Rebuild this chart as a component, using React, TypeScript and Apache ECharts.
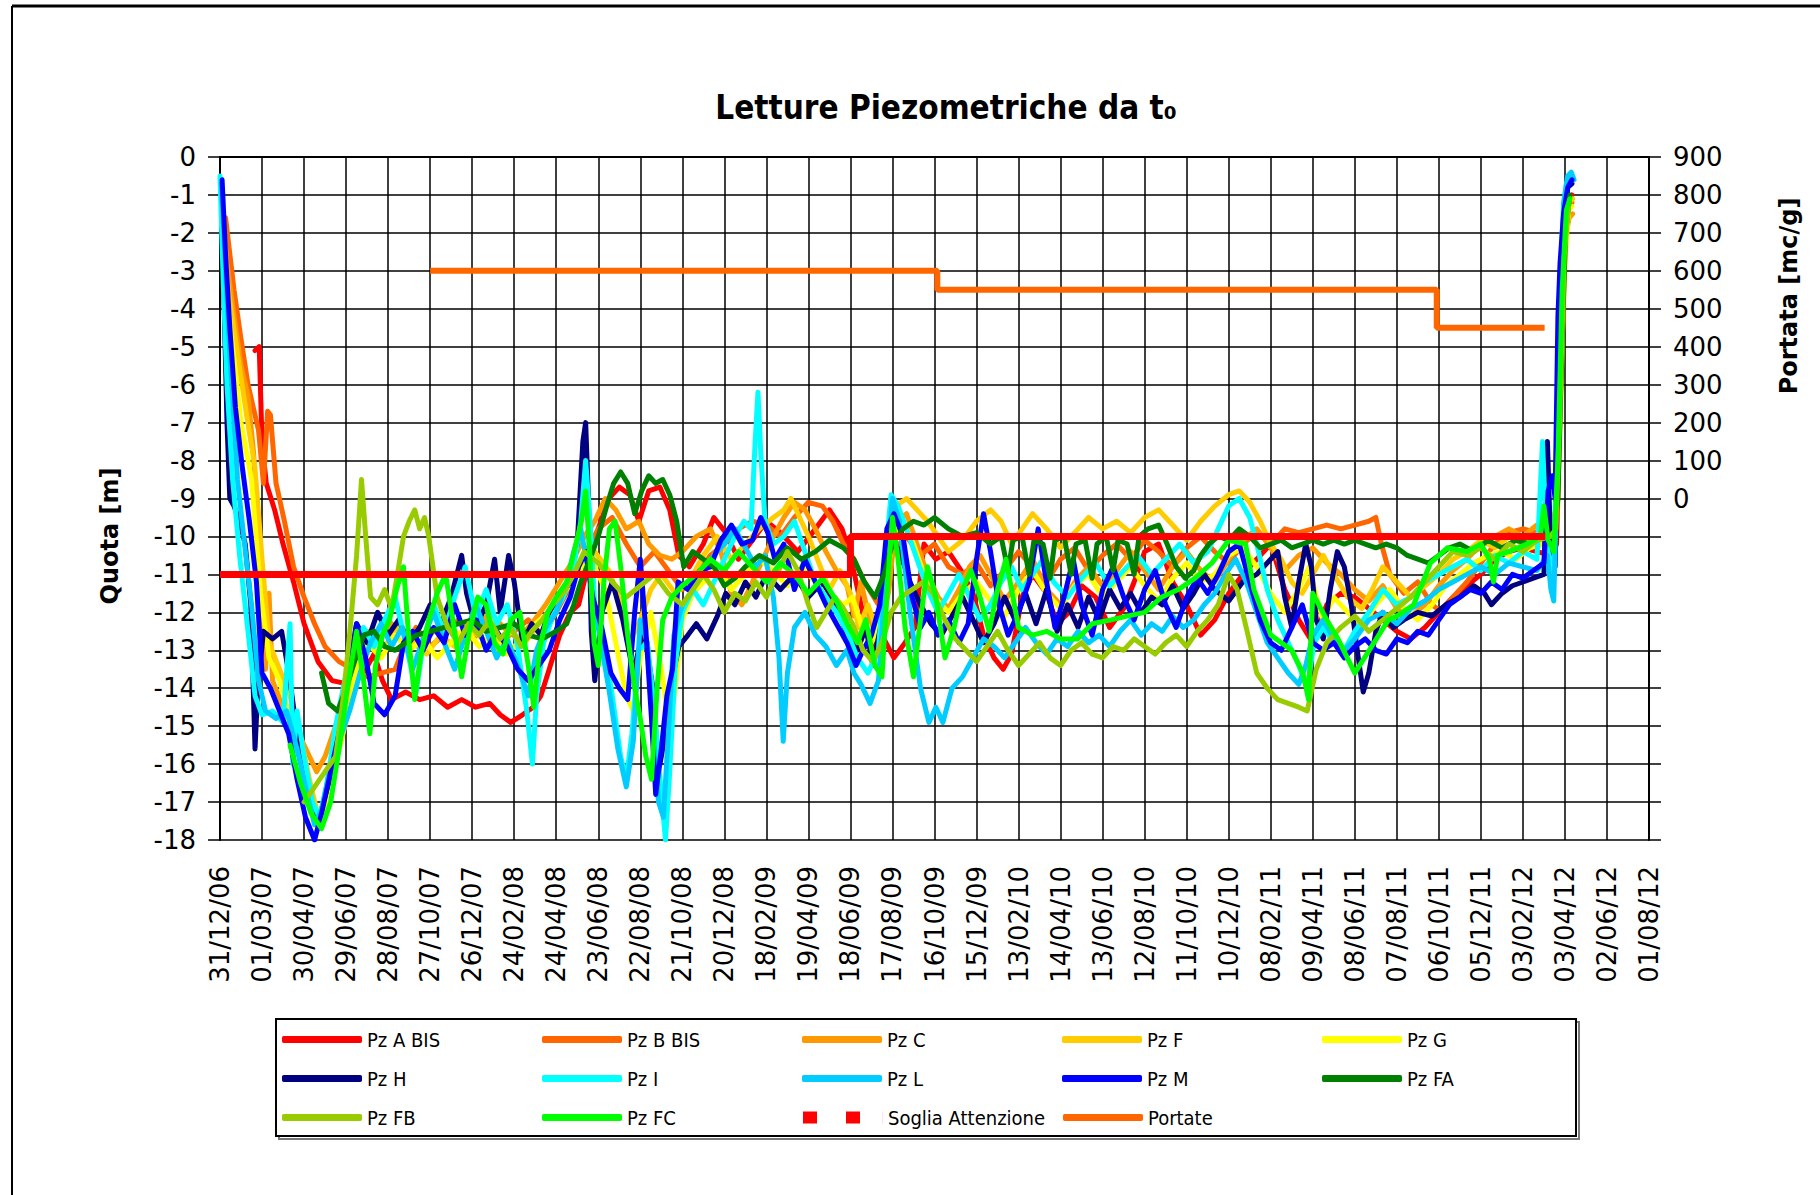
import React, { useEffect, useRef } from 'react';
import * as echarts from 'echarts';

// Tick labels of the date axis (every 60 days from 31/12/06)
const xLabels = ['31/12/06','01/03/07','30/04/07','29/06/07','28/08/07','27/10/07','26/12/07','24/02/08','24/04/08','23/06/08','22/08/08','21/10/08','20/12/08','18/02/09','19/04/09','18/06/09','17/08/09','16/10/09','15/12/09','13/02/10','14/04/10','13/06/10','12/08/10','11/10/10','10/12/10','08/02/11','09/04/11','08/06/11','07/08/11','06/10/11','05/12/11','03/02/12','03/04/12','02/06/12','01/08/12'];

// [days since 31/12/06, quota m]
const pzABis = [[50,-5.1],[56,-5.0],[60,-7.5],[66,-8.6],[78,-9.3],[90,-10.2],[105,-11.2],[120,-12.3],[140,-13.3],[160,-13.8],[185,-13.9],[205,-13.6],[220,-13.1],[232,-13.8],[245,-14.3],[265,-14.1],[285,-14.3],[305,-14.2],[325,-14.5],[345,-14.3],[365,-14.5],[385,-14.4],[400,-14.7],[415,-14.9],[432,-14.7],[447,-14.5],[458,-14.2],[470,-13.5],[485,-12.6],[500,-12.0],[512,-11.8],[525,-10.8],[540,-9.8],[555,-9.0],[570,-8.7],[585,-8.9],[598,-9.6],[612,-8.8],[628,-8.7],[642,-9.3],[655,-10.5],[670,-10.8],[690,-10.2],[705,-9.5],[722,-9.9],[740,-10.6],[760,-10.1],[780,-9.6],[800,-9.9],[825,-10.4],[850,-9.8],[870,-9.3],[888,-9.8],[900,-10.5],[915,-11.8],[930,-13.0],[945,-12.6],[962,-13.2],[978,-12.8],[992,-12.4],[1005,-10.2],[1022,-10.6],[1040,-10.4],[1058,-10.9],[1075,-11.5],[1090,-12.6],[1105,-13.2],[1118,-13.5],[1130,-13.1],[1145,-11.6],[1160,-11.0],[1180,-11.5],[1195,-12.3],[1212,-12.0],[1230,-11.3],[1250,-11.6],[1270,-12.4],[1290,-11.9],[1305,-11.2],[1320,-10.4],[1340,-10.2],[1360,-11.2],[1380,-11.8],[1400,-12.6],[1420,-12.2],[1440,-11.5],[1460,-11.0],[1480,-10.6],[1500,-10.2],[1520,-11.4],[1540,-12.2],[1560,-12.8],[1580,-11.8],[1600,-11.5],[1620,-11.6],[1640,-11.9],[1660,-12.2],[1680,-12.5],[1700,-12.7],[1720,-12.4],[1740,-12.0],[1760,-11.6],[1780,-11.3],[1800,-11.0],[1820,-10.6],[1840,-10.4],[1860,-10.3],[1880,-10.4],[1900,-10.5],[1908,-10.2],[1914,-6.0],[1919,-2.6],[1925,-1.2],[1930,-1.0]];

const pzBBis = [[8,-1.6],[20,-3.5],[30,-4.8],[40,-6.0],[55,-7.2],[62,-8.6],[68,-6.7],[72,-6.8],[80,-8.6],[92,-9.6],[105,-10.8],[120,-11.6],[135,-12.3],[150,-12.9],[170,-13.3],[190,-13.5],[210,-13.7],[230,-13.6],[250,-13.5],[265,-12.8],[280,-12.4],[300,-12.9],[320,-12.6],[340,-12.2],[360,-12.7],[380,-12.4],[400,-12.8],[420,-12.5],[440,-12.2],[460,-12.6],[480,-12.0],[500,-11.3],[520,-10.5],[540,-9.8],[560,-9.5],[580,-10.2],[600,-10.8],[620,-10.4],[640,-10.9],[660,-11.4],[680,-11.0],[700,-10.5],[720,-10.2],[740,-9.8],[760,-9.6],[780,-9.7],[800,-10.0],[820,-9.5],[840,-9.1],[860,-9.2],[875,-9.6],[890,-10.2],[905,-10.6],[920,-11.2],[940,-11.8],[960,-10.4],[980,-10.0],[1000,-10.5],[1020,-10.2],[1040,-10.8],[1060,-11.0],[1080,-10.7],[1100,-11.3],[1120,-10.9],[1140,-10.4],[1160,-10.8],[1180,-11.2],[1200,-10.6],[1220,-10.3],[1240,-10.9],[1260,-10.5],[1280,-10.2],[1300,-10.6],[1320,-10.1],[1340,-10.4],[1360,-10.8],[1380,-10.3],[1400,-10.0],[1420,-10.4],[1440,-10.7],[1460,-10.2],[1480,-9.9],[1500,-10.2],[1520,-9.8],[1540,-9.9],[1560,-9.8],[1580,-9.7],[1600,-9.8],[1620,-9.7],[1640,-9.6],[1650,-9.5],[1658,-10.2],[1670,-11.0],[1690,-11.5],[1710,-11.2],[1730,-11.8],[1745,-12.0],[1760,-11.6],[1780,-11.2],[1800,-10.7],[1820,-10.2],[1840,-9.9],[1860,-9.8],[1880,-9.9],[1900,-9.7],[1908,-9.5],[1914,-5.0],[1919,-2.0],[1925,-1.3],[1930,-1.2]];

const pzC = [[3,-1.4],[10,-2.8],[20,-4.2],[30,-5.5],[40,-6.3],[48,-7.8],[55,-10.5],[60,-12.2],[65,-13.5],[70,-11.5],[75,-13.8],[90,-14.5],[105,-14.9],[120,-15.5],[138,-16.2],[150,-15.8],[165,-15.0],[180,-14.2],[195,-13.2],[210,-12.5],[225,-12.7],[245,-12.3],[265,-12.6],[285,-12.9],[305,-12.5],[325,-12.2],[345,-12.8],[365,-12.5],[385,-12.0],[405,-12.4],[425,-12.7],[445,-12.3],[465,-11.8],[485,-11.2],[505,-10.6],[520,-10.0],[535,-9.6],[550,-9.0],[565,-9.3],[580,-9.8],[598,-9.6],[612,-10.2],[628,-10.5],[645,-10.6],[660,-10.4],[680,-10.0],[700,-9.8],[715,-10.4],[730,-11.5],[745,-11.8],[760,-11.2],[775,-10.6],[790,-10.0],[805,-9.5],[820,-9.1],[835,-9.3],[850,-9.8],[865,-10.4],[880,-10.9],[895,-11.3],[905,-12.1],[915,-11.2],[925,-12.0],[940,-12.8],[955,-11.4],[965,-9.6],[980,-9.4],[995,-10.2],[1010,-11.0],[1025,-11.6],[1040,-11.9],[1055,-11.4],[1070,-10.8],[1085,-10.5],[1100,-11.0],[1120,-11.7],[1140,-11.2],[1160,-10.6],[1180,-11.4],[1200,-11.8],[1220,-11.2],[1240,-10.8],[1260,-11.3],[1280,-10.9],[1300,-10.4],[1320,-10.9],[1340,-11.4],[1360,-10.8],[1380,-10.4],[1400,-10.9],[1420,-11.2],[1440,-10.6],[1460,-10.1],[1480,-9.8],[1500,-10.3],[1520,-10.9],[1540,-10.5],[1560,-10.3],[1580,-10.7],[1600,-11.0],[1620,-11.4],[1640,-11.7],[1660,-11.3],[1680,-11.9],[1700,-12.1],[1720,-11.8],[1740,-11.3],[1760,-10.9],[1780,-10.6],[1800,-10.2],[1820,-10.0],[1840,-9.8],[1860,-10.0],[1880,-9.7],[1900,-9.8],[1908,-9.2],[1914,-5.5],[1920,-2.2],[1926,-1.6],[1931,-1.5]];

const pzF = [[3,-1.8],[12,-3.5],[25,-5.2],[38,-6.8],[50,-8.2],[60,-10.6],[70,-12.8],[85,-13.5],[100,-14.2],[115,-15.3],[130,-16.6],[142,-17.5],[155,-16.8],[170,-15.6],[185,-14.5],[200,-13.2],[215,-12.6],[235,-12.9],[255,-12.4],[275,-12.8],[295,-13.1],[315,-12.6],[335,-12.9],[355,-12.4],[375,-12.7],[395,-13.0],[415,-12.5],[435,-12.8],[455,-12.3],[475,-11.9],[495,-11.4],[515,-10.8],[535,-10.4],[555,-10.9],[570,-11.6],[585,-12.8],[600,-12.2],[615,-11.4],[630,-11.0],[650,-11.5],[670,-11.2],[690,-10.5],[710,-10.0],[730,-10.6],[750,-10.2],[770,-9.8],[790,-9.5],[805,-9.3],[815,-9.0],[825,-9.4],[840,-10.0],[855,-10.7],[870,-11.4],[885,-10.9],[900,-11.5],[912,-12.4],[925,-11.8],[940,-12.6],[955,-10.5],[965,-9.2],[980,-9.0],[995,-9.3],[1010,-9.6],[1025,-10.0],[1040,-10.4],[1060,-10.1],[1080,-9.6],[1100,-9.3],[1115,-9.6],[1130,-10.2],[1145,-9.8],[1160,-9.4],[1180,-9.8],[1200,-10.3],[1220,-9.9],[1240,-9.5],[1260,-9.8],[1280,-9.6],[1300,-9.9],[1320,-9.5],[1340,-9.3],[1360,-9.7],[1380,-10.1],[1400,-9.6],[1420,-9.2],[1440,-8.9],[1455,-8.8],[1470,-9.1],[1485,-9.6],[1500,-10.2],[1515,-10.6],[1530,-11.2],[1545,-11.5],[1560,-11.0],[1575,-10.5],[1590,-11.0],[1610,-11.6],[1630,-11.9],[1645,-11.4],[1660,-10.8],[1680,-11.2],[1700,-11.6],[1720,-11.3],[1740,-11.0],[1760,-10.6],[1780,-10.4],[1800,-10.1],[1820,-10.3],[1840,-10.0],[1860,-10.2],[1880,-10.1],[1900,-10.0],[1908,-9.6],[1914,-6.0],[1920,-2.5],[1926,-1.2],[1931,-1.1]];

const pzG = [[5,-2.5],[15,-4.5],[30,-7.0],[45,-8.5],[58,-11.5],[70,-13.2],[85,-13.8],[100,-14.8],[115,-15.8],[130,-17.0],[140,-17.6],[150,-17.2],[165,-16.0],[180,-14.8],[195,-13.5],[210,-12.8],[230,-13.2],[250,-12.6],[270,-13.0],[290,-12.7],[310,-13.2],[330,-12.8],[350,-12.4],[370,-12.9],[390,-12.6],[410,-13.1],[430,-12.7],[450,-12.3],[470,-12.0],[490,-11.5],[510,-11.0],[530,-10.6],[550,-11.4],[565,-12.8],[580,-14.2],[590,-14.6],[600,-13.2],[615,-12.0],[630,-13.5],[642,-15.0],[650,-14.0],[660,-12.2],[675,-11.5],[690,-11.2],[710,-10.8],[730,-11.4],[750,-11.0],[770,-10.6],[790,-10.9],[810,-11.3],[830,-10.8],[850,-11.2],[870,-11.6],[890,-11.8],[903,-11.6],[915,-12.3],[930,-12.8],[945,-12.1],[960,-10.0],[975,-9.6],[990,-10.2],[1005,-11.0],[1020,-11.6],[1040,-12.0],[1060,-11.5],[1080,-11.2],[1100,-11.7],[1120,-12.1],[1140,-11.4],[1160,-10.9],[1180,-11.5],[1200,-11.9],[1220,-11.3],[1240,-11.0],[1260,-11.6],[1280,-11.2],[1300,-10.8],[1320,-11.3],[1340,-11.7],[1360,-11.1],[1380,-10.7],[1400,-11.2],[1420,-11.0],[1440,-10.5],[1460,-10.3],[1480,-10.8],[1500,-11.5],[1520,-12.0],[1540,-11.4],[1555,-10.8],[1565,-11.6],[1575,-12.2],[1590,-11.6],[1610,-12.0],[1630,-12.4],[1650,-11.8],[1670,-11.4],[1690,-11.9],[1710,-12.2],[1730,-11.8],[1750,-11.3],[1770,-11.0],[1790,-10.7],[1810,-10.5],[1830,-10.4],[1850,-10.6],[1870,-10.3],[1890,-10.2],[1906,-10.0],[1913,-7.0],[1919,-3.0],[1925,-1.4],[1930,-1.3]];

const pzH = [[2,-0.8],[6,-4.0],[10,-7.0],[14,-9.0],[20,-9.2],[28,-9.6],[36,-10.2],[44,-11.8],[50,-15.6],[54,-14.0],[62,-12.5],[75,-12.7],[88,-12.5],[100,-13.8],[112,-15.5],[125,-16.8],[135,-17.5],[145,-17.2],[155,-16.5],[168,-15.2],[180,-14.0],[195,-12.3],[210,-12.8],[225,-12.0],[240,-12.6],[255,-12.2],[270,-12.8],[285,-12.4],[300,-11.8],[315,-12.3],[330,-11.6],[345,-10.5],[352,-11.5],[365,-12.4],[380,-11.8],[392,-10.6],[400,-12.0],[412,-10.5],[420,-11.2],[432,-12.8],[445,-12.3],[458,-12.6],[470,-12.0],[485,-11.6],[500,-11.2],[510,-10.2],[518,-7.5],[522,-7.0],[526,-9.0],[530,-12.5],[535,-13.8],[545,-12.0],[560,-11.2],[575,-12.2],[590,-13.6],[605,-12.4],[618,-14.0],[626,-16.2],[634,-15.4],[645,-13.8],[655,-12.9],[668,-12.6],[680,-12.3],[695,-12.7],[710,-12.1],[722,-11.5],[735,-11.8],[750,-11.2],[765,-11.6],[780,-11.0],[800,-11.4],[820,-11.0],[840,-11.6],[860,-11.2],[880,-11.8],[895,-12.6],[910,-13.0],[922,-12.4],[932,-13.4],[945,-12.2],[958,-10.0],[970,-10.4],[985,-11.2],[1000,-11.8],[1015,-12.3],[1030,-12.6],[1045,-12.1],[1060,-11.6],[1075,-12.2],[1090,-12.8],[1105,-12.3],[1120,-11.6],[1135,-12.2],[1150,-11.5],[1165,-12.3],[1180,-11.4],[1195,-12.5],[1210,-11.8],[1225,-12.4],[1240,-11.6],[1255,-12.2],[1270,-11.4],[1285,-11.9],[1300,-11.5],[1315,-12.0],[1330,-11.6],[1345,-11.8],[1360,-11.3],[1375,-11.9],[1390,-11.5],[1405,-11.0],[1420,-11.4],[1440,-11.7],[1460,-11.2],[1480,-11.0],[1500,-10.6],[1510,-10.4],[1520,-11.6],[1530,-12.4],[1540,-11.2],[1550,-10.2],[1558,-10.8],[1565,-12.2],[1575,-12.7],[1585,-11.4],[1595,-10.4],[1605,-10.8],[1615,-11.8],[1625,-13.2],[1632,-14.1],[1640,-13.6],[1650,-12.5],[1660,-12.0],[1675,-12.4],[1690,-12.2],[1710,-12.0],[1730,-12.1],[1750,-11.8],[1770,-11.6],[1790,-11.3],[1805,-11.5],[1815,-11.8],[1830,-11.5],[1845,-11.3],[1860,-11.2],[1875,-11.1],[1890,-11.0],[1895,-7.5],[1900,-10.5],[1906,-10.8],[1912,-6.0],[1918,-2.0],[1924,-0.8],[1930,-0.7]];

const pzI = [[0,-0.5],[5,-3.5],[10,-6.0],[18,-8.5],[28,-10.5],[40,-12.5],[50,-14.2],[60,-14.7],[75,-14.6],[90,-14.9],[100,-12.3],[104,-16.0],[110,-14.6],[120,-15.8],[132,-17.0],[142,-17.4],[152,-16.6],[165,-15.0],[178,-13.8],[190,-12.9],[205,-12.4],[220,-12.9],[235,-12.2],[250,-11.6],[265,-12.8],[280,-14.1],[292,-12.6],[305,-11.8],[320,-12.5],[335,-11.6],[350,-10.8],[365,-12.1],[380,-11.4],[395,-12.3],[410,-11.8],[425,-12.9],[438,-14.6],[446,-16.0],[452,-14.2],[462,-12.8],[475,-12.1],[490,-11.6],[505,-10.8],[515,-9.6],[522,-8.0],[528,-9.5],[535,-11.8],[548,-12.8],[560,-14.2],[572,-15.8],[580,-16.4],[588,-15.2],[598,-13.0],[610,-12.8],[620,-14.5],[630,-16.8],[636,-18.0],[642,-16.2],[650,-13.4],[660,-12.0],[675,-11.4],[690,-11.8],[705,-11.2],[720,-10.6],[735,-10.0],[748,-9.6],[758,-9.8],[764,-7.5],[768,-6.2],[772,-7.8],[778,-9.6],[790,-10.2],[805,-10.0],[820,-9.6],[835,-10.4],[850,-11.2],[865,-11.6],[880,-12.0],[895,-12.5],[910,-13.2],[925,-13.6],[940,-13.0],[950,-10.5],[958,-8.9],[968,-9.2],[980,-9.8],[995,-10.6],[1010,-11.4],[1025,-12.0],[1040,-11.5],[1055,-11.0],[1070,-11.6],[1085,-12.2],[1100,-11.8],[1115,-11.2],[1130,-10.8],[1145,-11.4],[1160,-11.0],[1175,-10.6],[1190,-11.2],[1210,-11.6],[1230,-11.1],[1250,-10.7],[1270,-11.3],[1290,-10.9],[1310,-10.5],[1330,-11.0],[1350,-10.6],[1370,-10.2],[1390,-10.7],[1410,-10.4],[1425,-9.8],[1440,-9.2],[1455,-9.0],[1470,-9.5],[1480,-10.2],[1495,-11.4],[1510,-12.2],[1525,-12.8],[1540,-13.4],[1552,-14.0],[1562,-12.8],[1575,-12.4],[1590,-12.8],[1605,-13.0],[1620,-12.5],[1640,-12.0],[1660,-11.4],[1680,-11.8],[1700,-11.6],[1720,-11.2],[1740,-11.0],[1760,-10.8],[1780,-10.6],[1800,-10.9],[1820,-10.5],[1840,-10.7],[1860,-10.4],[1880,-10.6],[1888,-7.5],[1894,-10.2],[1900,-10.8],[1904,-11.0],[1910,-6.0],[1916,-2.0],[1922,-0.7],[1928,-0.5],[1932,-0.6]];

const pzL = [[2,-0.7],[8,-3.0],[15,-5.5],[25,-8.5],[35,-10.2],[45,-11.8],[55,-13.8],[65,-14.6],[80,-14.8],[95,-14.6],[110,-15.6],[122,-16.6],[135,-17.6],[145,-17.2],[155,-16.3],[170,-15.4],[185,-14.6],[200,-13.6],[215,-12.8],[230,-12.3],[245,-12.9],[260,-12.4],[275,-13.5],[290,-12.7],[305,-12.0],[320,-12.8],[335,-13.5],[350,-12.6],[365,-11.8],[380,-12.5],[395,-13.2],[410,-12.7],[425,-13.4],[440,-14.2],[452,-13.0],[465,-12.4],[480,-12.0],[495,-11.2],[505,-10.4],[515,-9.8],[525,-10.8],[540,-12.4],[555,-14.0],[568,-15.6],[580,-16.6],[590,-15.4],[600,-12.2],[610,-12.8],[618,-15.0],[626,-17.0],[633,-17.4],[640,-15.2],[648,-12.6],[660,-11.8],[675,-11.4],[690,-11.0],[705,-10.5],[720,-10.2],[735,-9.8],[750,-10.3],[765,-10.8],[778,-10.5],[790,-11.6],[798,-13.2],[804,-15.4],[810,-13.6],[820,-12.4],[835,-12.0],[850,-12.6],[865,-12.9],[880,-13.4],[895,-13.0],[905,-13.6],[915,-13.9],[928,-14.4],[940,-13.8],[952,-10.6],[960,-9.0],[970,-9.6],[985,-12.0],[1000,-14.0],[1012,-14.9],[1022,-14.5],[1032,-14.9],[1045,-14.0],[1060,-13.7],[1075,-13.2],[1090,-12.7],[1105,-12.9],[1120,-13.2],[1135,-12.8],[1150,-12.4],[1165,-12.8],[1180,-13.1],[1195,-12.7],[1210,-12.9],[1225,-12.5],[1240,-12.8],[1255,-12.6],[1270,-12.9],[1285,-12.5],[1300,-12.2],[1315,-12.6],[1330,-12.3],[1345,-12.5],[1360,-12.1],[1375,-12.4],[1390,-12.2],[1405,-11.8],[1420,-11.5],[1435,-11.0],[1450,-10.6],[1465,-11.2],[1480,-12.0],[1495,-12.8],[1510,-13.2],[1525,-13.6],[1540,-13.9],[1550,-13.4],[1560,-12.6],[1575,-12.2],[1590,-12.7],[1605,-13.0],[1620,-12.7],[1640,-12.2],[1660,-12.0],[1680,-12.3],[1700,-11.9],[1720,-11.7],[1740,-11.4],[1760,-11.2],[1780,-11.0],[1800,-10.8],[1820,-11.0],[1840,-10.7],[1860,-10.8],[1880,-10.9],[1895,-10.5],[1900,-11.4],[1904,-11.7],[1908,-9.0],[1913,-4.0],[1918,-1.2],[1924,-0.5],[1929,-0.4],[1933,-0.6]];

const pzM = [[3,-0.6],[8,-2.6],[14,-4.5],[22,-6.6],[32,-8.2],[42,-9.6],[52,-11.2],[60,-13.6],[72,-14.0],[85,-14.6],[98,-15.2],[110,-16.4],[122,-17.4],[135,-18.0],[145,-17.3],[158,-16.2],[172,-15.0],[185,-13.4],[195,-12.3],[208,-13.2],[220,-14.4],[235,-14.7],[250,-14.2],[262,-12.8],[275,-12.5],[290,-13.0],[305,-12.4],[320,-12.8],[335,-11.8],[350,-12.6],[365,-12.2],[380,-13.0],[395,-12.5],[410,-12.9],[425,-13.5],[440,-13.8],[455,-13.4],[470,-13.0],[485,-12.2],[500,-11.6],[512,-10.8],[522,-10.4],[532,-11.6],[545,-12.4],[558,-13.6],[570,-14.0],[582,-14.3],[592,-12.0],[600,-10.6],[608,-12.5],[616,-14.8],[622,-16.8],[630,-15.6],[638,-14.2],[646,-13.5],[654,-11.2],[668,-11.4],[685,-10.9],[700,-10.8],[715,-10.1],[730,-9.7],[745,-10.2],[760,-10.1],[772,-9.5],[782,-9.9],[792,-10.6],[805,-10.2],[820,-11.4],[835,-10.6],[850,-11.2],[865,-11.8],[880,-12.3],[895,-12.8],[908,-13.4],[918,-13.0],[930,-12.6],[942,-11.8],[952,-9.8],[962,-9.4],[975,-10.0],[988,-11.6],[1000,-12.4],[1012,-12.0],[1025,-12.6],[1040,-12.2],[1055,-12.8],[1068,-12.3],[1080,-10.6],[1090,-9.4],[1100,-10.4],[1112,-11.8],[1125,-12.6],[1140,-12.0],[1155,-11.2],[1168,-9.8],[1178,-11.0],[1192,-12.4],[1205,-11.6],[1218,-10.6],[1230,-11.8],[1245,-12.6],[1260,-11.4],[1275,-10.8],[1290,-11.6],[1305,-12.2],[1320,-11.4],[1335,-10.9],[1350,-11.8],[1365,-12.4],[1380,-11.6],[1395,-11.1],[1410,-11.5],[1425,-11.0],[1440,-10.4],[1455,-10.2],[1470,-11.2],[1485,-12.2],[1500,-12.8],[1515,-13.0],[1530,-12.4],[1545,-11.8],[1560,-12.8],[1575,-13.0],[1590,-12.8],[1605,-13.2],[1620,-12.9],[1635,-12.7],[1650,-13.0],[1665,-13.1],[1680,-12.7],[1695,-12.8],[1710,-12.5],[1725,-12.6],[1740,-12.2],[1755,-11.8],[1770,-11.6],[1785,-11.4],[1800,-11.5],[1815,-11.2],[1830,-11.4],[1845,-11.0],[1860,-11.1],[1875,-10.9],[1890,-10.7],[1896,-8.8],[1902,-8.4],[1906,-9.0],[1910,-4.2],[1913,-2.8],[1918,-1.5],[1924,-0.8],[1930,-0.6]];

const pzFA = [[145,-13.6],[155,-14.4],[168,-14.6],[180,-14.0],[192,-13.3],[205,-12.6],[220,-12.5],[235,-12.9],[250,-13.0],[265,-12.8],[280,-12.6],[300,-12.5],[320,-12.4],[340,-12.3],[360,-12.2],[380,-12.5],[400,-12.4],[420,-12.3],[440,-12.6],[460,-12.7],[480,-12.5],[495,-12.3],[505,-11.8],[515,-11.2],[528,-10.6],[540,-10.0],[552,-9.2],[562,-8.6],[572,-8.3],[582,-8.6],[592,-9.4],[602,-8.8],[612,-8.4],[622,-8.6],[632,-8.5],[642,-8.9],[652,-9.6],[662,-10.8],[675,-10.4],[690,-10.6],[705,-10.8],[720,-11.3],[735,-11.1],[750,-10.8],[770,-10.5],[790,-10.7],[810,-10.3],[830,-10.6],[850,-10.4],[870,-10.1],[890,-10.3],[905,-10.6],[920,-11.2],[935,-11.6],[948,-11.0],[960,-10.2],[975,-9.8],[990,-9.6],[1005,-9.7],[1020,-9.5],[1040,-9.8],[1060,-10.0],[1080,-9.9],[1100,-10.2],[1115,-10.0],[1125,-10.9],[1132,-10.1],[1145,-10.0],[1155,-11.0],[1162,-10.1],[1175,-10.2],[1185,-11.1],[1192,-10.1],[1205,-10.0],[1215,-11.0],[1222,-10.2],[1235,-10.1],[1245,-11.1],[1252,-10.2],[1265,-10.0],[1275,-10.9],[1282,-10.1],[1295,-10.2],[1305,-11.0],[1312,-10.0],[1325,-9.8],[1340,-9.7],[1352,-10.2],[1365,-10.8],[1378,-11.1],[1390,-10.9],[1400,-10.5],[1412,-10.2],[1425,-10.0],[1440,-10.1],[1455,-9.8],[1470,-10.0],[1485,-10.3],[1500,-10.2],[1515,-10.1],[1530,-10.3],[1545,-10.2],[1560,-10.1],[1575,-10.2],[1590,-10.1],[1605,-10.2],[1620,-10.1],[1635,-10.2],[1650,-10.3],[1665,-10.2],[1680,-10.3],[1695,-10.5],[1710,-10.6],[1725,-10.7],[1740,-10.5],[1755,-10.3],[1770,-10.2],[1790,-10.4],[1810,-10.1],[1830,-10.3],[1850,-10.1],[1870,-10.2],[1890,-10.0],[1905,-9.9],[1910,-9.0],[1915,-5.5],[1921,-2.0],[1927,-1.0]];

const pzFB = [[120,-17.0],[135,-16.6],[150,-16.2],[165,-15.8],[175,-14.4],[185,-12.6],[195,-10.5],[202,-8.5],[208,-10.0],[215,-11.6],[225,-11.8],[235,-11.4],[245,-11.9],[255,-10.8],[262,-10.0],[270,-9.6],[278,-9.3],[285,-9.8],[292,-9.5],[298,-10.0],[310,-11.6],[325,-12.4],[340,-12.8],[355,-12.3],[370,-12.6],[385,-12.2],[400,-12.7],[415,-12.4],[430,-12.9],[445,-12.5],[460,-12.2],[475,-11.8],[490,-11.5],[505,-11.0],[520,-10.4],[540,-10.7],[560,-11.2],[580,-11.6],[600,-11.3],[620,-11.0],[640,-11.5],[660,-11.8],[675,-11.4],[690,-11.0],[705,-11.4],[720,-12.0],[735,-11.5],[750,-11.7],[765,-11.2],[780,-11.6],[795,-11.0],[810,-10.4],[825,-10.9],[840,-11.8],[852,-12.4],[865,-12.0],[878,-11.6],[890,-11.9],[903,-12.3],[918,-13.0],[932,-13.3],[945,-12.8],[958,-12.0],[972,-11.6],[988,-11.4],[1004,-11.2],[1018,-11.5],[1035,-12.2],[1050,-12.7],[1065,-13.0],[1080,-13.3],[1095,-12.9],[1110,-12.5],[1125,-13.0],[1140,-13.4],[1155,-13.1],[1170,-12.8],[1185,-13.2],[1200,-13.4],[1215,-13.0],[1230,-12.8],[1245,-13.1],[1260,-13.2],[1275,-12.9],[1290,-13.0],[1305,-12.7],[1320,-12.9],[1335,-13.1],[1350,-12.8],[1365,-12.6],[1380,-12.9],[1395,-12.5],[1410,-12.2],[1425,-11.8],[1440,-11.0],[1452,-11.4],[1465,-12.4],[1480,-13.6],[1495,-14.0],[1510,-14.3],[1525,-14.4],[1540,-14.5],[1552,-14.6],[1565,-13.5],[1580,-12.8],[1600,-12.4],[1620,-12.1],[1640,-12.5],[1660,-12.2],[1680,-11.9],[1700,-11.6],[1720,-11.2],[1740,-10.8],[1760,-10.4],[1780,-10.5],[1800,-10.3],[1820,-10.6],[1840,-10.2],[1860,-10.4],[1880,-10.1],[1900,-10.0],[1907,-9.8],[1913,-6.5],[1919,-2.6],[1925,-1.3]];

const pzFC = [[100,-15.5],[115,-16.5],[130,-17.3],[145,-17.7],[158,-17.0],[170,-15.6],[182,-14.0],[195,-12.5],[205,-13.8],[214,-15.2],[222,-13.4],[232,-12.6],[242,-12.2],[252,-11.4],[262,-10.8],[270,-12.8],[278,-14.3],[286,-13.2],[298,-12.2],[310,-11.5],[322,-11.0],[334,-12.4],[345,-13.7],[356,-12.5],[368,-11.6],[380,-11.8],[392,-12.8],[404,-13.1],[415,-12.2],[428,-12.0],[440,-13.4],[448,-14.5],[456,-13.0],[468,-12.0],[480,-11.6],[495,-11.2],[508,-10.2],[516,-9.6],[522,-8.8],[528,-10.5],[534,-12.8],[540,-13.4],[548,-11.2],[556,-9.8],[564,-9.6],[572,-10.8],[582,-12.6],[592,-14.0],[600,-14.8],[608,-15.8],[616,-16.4],[624,-14.0],[632,-12.2],[645,-11.6],[660,-11.3],[680,-11.0],[700,-10.6],[720,-10.9],[740,-10.4],[760,-10.8],[780,-11.2],[800,-10.7],[820,-11.0],[840,-11.5],[860,-11.1],[880,-11.7],[895,-12.3],[910,-12.8],[922,-12.2],[935,-13.4],[945,-13.7],[954,-11.0],[960,-9.5],[968,-10.6],[978,-12.4],[990,-13.7],[1000,-12.2],[1010,-10.8],[1022,-11.6],[1035,-13.2],[1048,-12.4],[1060,-11.4],[1072,-10.9],[1085,-11.6],[1098,-12.5],[1110,-11.4],[1122,-10.6],[1140,-12.4],[1160,-12.6],[1180,-12.5],[1200,-12.7],[1224,-12.7],[1245,-12.3],[1272,-12.2],[1295,-12.1],[1320,-12.0],[1344,-11.6],[1368,-11.4],[1392,-11.1],[1416,-10.7],[1440,-10.1],[1464,-10.2],[1476,-11.4],[1500,-12.6],[1530,-13.0],[1546,-13.6],[1554,-14.3],[1560,-11.5],[1580,-12.2],[1596,-12.7],[1620,-13.6],[1644,-12.9],[1668,-12.2],[1680,-12.1],[1704,-11.8],[1728,-10.7],[1752,-10.3],[1780,-10.4],[1800,-10.2],[1812,-10.6],[1818,-11.2],[1824,-10.5],[1840,-10.4],[1866,-10.2],[1885,-10.0],[1890,-9.2],[1896,-10.1],[1904,-10.4],[1910,-8.0],[1916,-3.5],[1922,-1.4],[1927,-1.1]];

// Threshold (quota) and flow rate (right axis, mc/g)
const soglia = [[0,-11],[900,-11],[900,-10],[1892,-10]];
const portate = [[300,600],[1024,600],[1024,550],[1737,550],[1737,450],[1891,450]];

const piezo = [
  { name: 'Pz A BIS', color: '#FF0000', data: pzABis },
  { name: 'Pz B BIS', color: '#FF6600', data: pzBBis },
  { name: 'Pz C', color: '#FF9900', data: pzC },
  { name: 'Pz F', color: '#FFCC00', data: pzF },
  { name: 'Pz G', color: '#FFFF00', data: pzG },
  { name: 'Pz H', color: '#000080', data: pzH },
  { name: 'Pz I', color: '#00FFFF', data: pzI },
  { name: 'Pz L', color: '#00CCFF', data: pzL },
  { name: 'Pz M', color: '#0000FF', data: pzM },
  { name: 'Pz FA', color: '#008000', data: pzFA },
  { name: 'Pz FB', color: '#99CC00', data: pzFB },
  { name: 'Pz FC', color: '#00FF00', data: pzFC },
];

const FONT = "'DejaVu Sans', Verdana, sans-serif";
const COMIC = "'Comic Sans MS', 'DejaVu Sans Condensed', 'DejaVu Sans', sans-serif";

export default function App() {
  const ref = useRef<HTMLDivElement>(null);
  useEffect(() => {
    const chart = echarts.init(ref.current!, null, { renderer: 'svg' });
    const series: any[] = piezo.map((p) => ({
      name: p.name,
      type: 'line',
      data: p.data,
      color: p.color,
      showSymbol: false,
      symbol: 'none',
      lineStyle: { color: p.color, width: 5, join: 'round', cap: 'round' },
      silent: true,
    }));
    series.push({
      name: 'Soglia Attenzione', type: 'line', data: soglia, color: '#FF0000', symbol: 'none',
      lineStyle: { color: '#FF0000', width: 7 }, silent: true, z: 5,
    });
    series.push({
      name: 'Portate', type: 'line', yAxisIndex: 1, data: portate, color: '#FF6600', symbol: 'none',
      lineStyle: { color: '#FF6600', width: 6 }, silent: true, z: 5,
    });
    const legendText = { fontSize: 20, fontFamily: COMIC, color: '#000', width: 175, lineHeight: 39 };
    const legendBase = { padding: 0, itemWidth: 80, itemGap: 0, selectedMode: false, textStyle: legendText };

    chart.setOption({
      animation: false,
      backgroundColor: '#ffffff',
      grid: { left: 220, right: 171, top: 157, bottom: 355 },
      xAxis: {
        type: 'value', min: 0, max: 2040, interval: 60,
        axisLine: { show: true, lineStyle: { color: '#000', width: 2 } },
        axisTick: { show: false },
        splitLine: { show: true, lineStyle: { color: '#000', width: 1.5 } },
        axisLabel: {
          rotate: 90, margin: 26, fontSize: 26, fontFamily: FONT, color: '#000',
          formatter: (v: number) => xLabels[Math.round(v / 60)] ?? '',
        },
      },
      yAxis: [
        {
          type: 'value', min: -18, max: 0, interval: 1,
          axisLine: { show: true, lineStyle: { color: '#000', width: 2 } },
          axisTick: { show: true, length: 12, lineStyle: { color: '#000', width: 1.5 } },
          splitLine: { show: true, lineStyle: { color: '#000', width: 1.5 } },
          axisLabel: { margin: 24, fontSize: 26, fontFamily: FONT, color: '#000' },
        },
        {
          type: 'value', position: 'right', min: -900, max: 900, interval: 100,
          axisLine: { show: true, lineStyle: { color: '#000', width: 2 } },
          axisTick: { show: true, length: 12, lineStyle: { color: '#000', width: 1.5 } },
          splitLine: { show: false },
          axisLabel: {
            margin: 24, fontSize: 26, fontFamily: FONT, color: '#000',
            formatter: (v: number) => (v >= 0 ? String(v) : ''),
          },
        },
      ],
      legend: [
        {
          ...legendBase, left: 282, top: 1020, width: 1310, itemHeight: 7,
          data: piezo.map((p) => ({ name: p.name, icon: 'roundRect' })),
        },
        {
          ...legendBase, left: 803, top: 1098, itemHeight: 12,
          data: [{ name: 'Soglia Attenzione', icon: 'path://M0,0h14v12h-14zM43,0h14v12h-14zM79.9,0h0.1v12h-0.1z' }],
        },
        {
          ...legendBase, left: 1063, top: 1098, itemHeight: 7,
          data: [{ name: 'Portate', icon: 'roundRect' }],
        },
      ],
      graphic: [
        { type: 'line', shape: { x1: 12, y1: 6, x2: 1820, y2: 6 }, style: { stroke: '#000', lineWidth: 3 } },
        { type: 'line', shape: { x1: 12, y1: 6, x2: 12, y2: 1195 }, style: { stroke: '#000', lineWidth: 2 } },
        { type: 'rect', shape: { x: 279, y: 1022, width: 1300, height: 117 }, style: { fill: 'none', stroke: '#777', lineWidth: 2 }, z: -1 },
        { type: 'rect', shape: { x: 276, y: 1019, width: 1300, height: 117 }, style: { fill: '#fff', stroke: '#000', lineWidth: 2 }, z: -1 },
        {
          type: 'text', x: 946, y: 107,
          style: { text: 'Letture Piezometriche da t₀', font: `bold 33px ${COMIC}`, fill: '#000', textAlign: 'center', textVerticalAlign: 'middle' },
        },
        {
          type: 'text', x: 110, y: 536, rotation: Math.PI / 2,
          style: { text: 'Quota [m]', font: `bold 24px ${FONT}`, fill: '#000', textAlign: 'center', textVerticalAlign: 'middle' },
        },
        {
          type: 'text', x: 1789, y: 296, rotation: Math.PI / 2,
          style: { text: 'Portata [mc/g]', font: `bold 24px ${FONT}`, fill: '#000', textAlign: 'center', textVerticalAlign: 'middle' },
        },
      ],
      series,
    });
    return () => chart.dispose();
  }, []);
  return (
    <div
      ref={ref}
      style={{ position: 'absolute', left: 0, top: 0, width: 1820, height: 1195, background: '#fff' }}
    />
  );
}
